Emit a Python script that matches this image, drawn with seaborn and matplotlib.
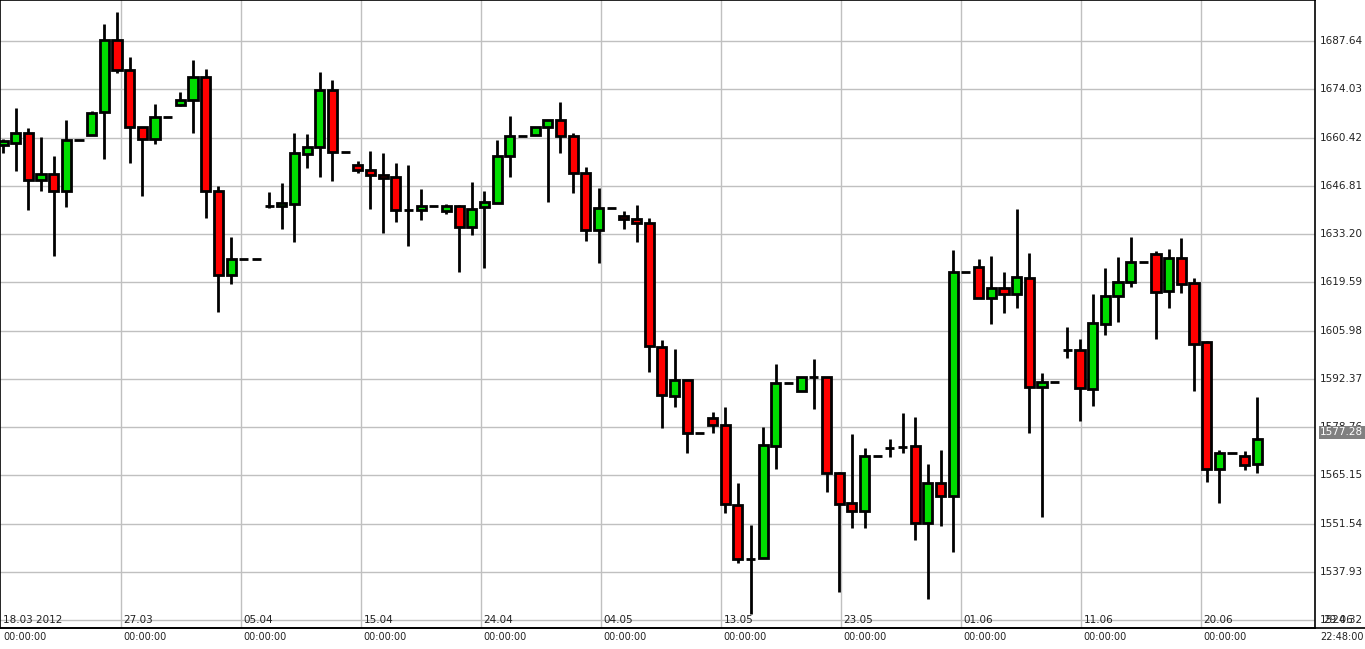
import numpy as np
import matplotlib
matplotlib.use("Agg")
import matplotlib.pyplot as plt
import seaborn as sns

opens = [1658.4,1658.9,1661.7,1648.4,1650.1,1645.3,1659.7,1661.1,1667.6,1688.0,
         1679.5,1663.4,1660.0,1666.2,1669.6,1671.0,1677.5,1645.3,1621.7,1626.2,
         1626.2,1641.1,1641.0,1641.7,1655.7,1657.7,1673.8,1656.3,1652.7,1651.3,
         1649.9,1649.3,1640.0,1640.0,1641.1,1639.8,1641.1,1635.2,1640.7,1642.0,
         1655.2,1660.9,1661.1,1663.4,1665.4,1660.9,1650.4,1634.3,1640.5,1638.3,
         1637.4,1636.3,1601.4,1587.6,1592.1,1577.2,1581.3,1579.4,1556.8,1541.6,
         1541.9,1573.3,1591.2,1588.9,1592.9,1592.9,1565.8,1557.4,1555.1,1570.6,
         1572.9,1573.2,1573.4,1551.8,1563.0,1559.4,1622.5,1623.9,1615.2,1618.0,
         1616.3,1620.8,1590.1,1591.5,1600.5,1600.5,1589.5,1607.8,1615.7,1619.7,
         1625.3,1627.6,1617.1,1626.5,1619.4,1602.8,1567.0,1571.5,1570.6,1568.4]
closes = [1659.5,1661.7,1648.4,1650.1,1645.3,1659.7,1659.7,1667.4,1688.0,1679.5,
          1663.4,1660.0,1666.2,1666.2,1671.0,1677.5,1645.3,1621.7,1626.2,1626.2,
          1626.2,1641.1,1642.0,1656.0,1657.7,1673.8,1656.3,1656.3,1651.3,1649.9,
          1649.0,1640.0,1640.0,1641.1,1641.1,1641.1,1635.2,1640.4,1642.3,1655.2,
          1660.9,1660.9,1663.4,1665.4,1660.9,1650.4,1634.3,1640.5,1640.5,1637.4,
          1636.3,1601.7,1587.9,1592.1,1577.2,1577.2,1579.4,1557.1,1541.6,1541.6,
          1573.6,1591.2,1591.2,1592.9,1592.9,1565.8,1557.1,1555.1,1570.6,1570.6,
          1572.9,1573.2,1551.8,1563.0,1559.4,1622.5,1622.5,1615.2,1618.0,1616.3,
          1621.1,1590.1,1591.5,1591.5,1600.5,1589.8,1608.0,1615.7,1619.7,1625.3,
          1625.3,1616.9,1626.5,1619.1,1602.3,1567.0,1571.5,1571.5,1568.1,1575.5]
highs = [1660.0,1668.7,1663.0,1660.7,1655.2,1665.4,1659.7,1667.9,1692.4,1695.8,
         1683.1,1663.4,1669.9,1666.2,1673.2,1682.3,1679.7,1646.8,1632.4,1626.2,
         1626.2,1645.0,1647.6,1661.8,1661.4,1678.9,1676.6,1656.3,1653.8,1656.6,
         1656.0,1653.2,1652.6,1645.9,1641.1,1641.7,1641.4,1647.9,1645.3,1659.8,
         1666.5,1660.9,1663.4,1665.4,1670.4,1661.7,1652.1,1646.2,1640.5,1639.7,
         1641.4,1637.6,1603.3,1600.8,1592.1,1577.2,1583.0,1584.4,1563.0,1551.2,
         1578.8,1596.6,1591.2,1592.9,1598.0,1592.9,1566.1,1576.8,1572.9,1570.6,
         1575.4,1582.7,1581.6,1568.4,1572.3,1628.7,1622.5,1626.2,1627.0,1622.5,
         1640.4,1627.9,1594.0,1591.5,1607.0,1603.6,1616.3,1623.6,1626.8,1632.4,
         1625.3,1628.4,1629.0,1632.1,1620.8,1603.0,1572.3,1571.5,1572.0,1587.2]
lows = [1656.0,1651.0,1640.0,1645.3,1627.0,1640.8,1659.7,1661.0,1654.4,1678.6,
        1653.2,1643.9,1658.6,1666.2,1669.3,1661.7,1637.7,1611.2,1619.0,1626.2,
        1626.2,1640.5,1634.6,1631.0,1651.8,1649.3,1648.2,1656.3,1650.4,1640.3,
        1633.5,1636.6,1629.8,1637.2,1641.1,1638.8,1622.4,1632.9,1623.7,1642.0,
        1649.3,1660.9,1661.1,1642.3,1656.0,1644.8,1631.2,1625.0,1640.5,1634.6,
        1631.0,1594.3,1578.5,1584.4,1571.5,1577.2,1577.2,1554.6,1540.5,1526.0,
        1541.9,1566.9,1591.2,1588.9,1583.9,1560.5,1532.3,1550.3,1550.3,1570.6,
        1570.3,1571.5,1547.0,1530.3,1550.9,1543.6,1622.5,1615.2,1607.9,1611.0,
        1612.4,1577.0,1553.4,1591.5,1598.2,1580.5,1584.7,1604.8,1608.4,1618.3,
        1625.3,1603.6,1612.4,1616.6,1588.9,1563.3,1557.4,1571.5,1566.7,1565.8]

y_ticks = [1524.32,1537.93,1551.54,1565.15,1578.76,1592.37,1605.98,1619.59,1633.20,1646.81,1660.42,1674.03,1687.64]
date_labels = ["18.03 2012","27.03","05.04","15.04","24.04","04.05","13.05","23.05","01.06","11.06","20.06","29.06"]
date_pos = [-0.2,9.31,18.78,28.25,37.72,47.19,56.66,66.13,75.6,85.07,94.54,104.0]
last_price = 1577.28

sns.set_style("white")
plt.rcParams['font.family'] = ['DejaVu Sans']

fig = plt.figure(figsize=(13.65, 6.49), dpi=100)
ax = fig.add_axes([0.0, 1 - 628/649, 1315/1365, 628/649])

x = np.arange(len(opens))
o = np.array(opens); c = np.array(closes)
cols = np.where(c >= o, "#00dd00", "#ff0000")
for gx in date_pos[1:-1]:
    ax.axvline(gx, color="#c0c0c0", lw=1, zorder=0)
for t in y_ticks:
    ax.axhline(t, color="#c0c0c0", lw=1, zorder=0)
ax.vlines(x, lows, highs, color="black", lw=2, zorder=1)
ax.bar(x, c - o, bottom=o, width=0.72, color=cols, edgecolor="black", linewidth=2, zorder=2)

ax.set_xlim(-0.237, 103.55)
ax.set_ylim(1522.1, 1699.2)
ax.set_xticks([]); ax.set_yticks([])
for s in ax.spines.values():
    s.set_color("black"); s.set_linewidth(1.2)

tr = ax.get_yaxis_transform()
for t in y_ticks:
    ax.text(1.004, t, f"{t:.2f}", transform=tr, ha="left", va="center", fontsize=7.5, color="#222222")
ax.text(1.004, last_price, f"{last_price:.2f}", transform=tr, ha="left", va="center", fontsize=7.5,
        color="white", bbox=dict(boxstyle="square,pad=0.15", fc="#808080", ec="none"))

bt = ax.get_xaxis_transform()
for p, lab in zip(date_pos, date_labels):
    ax.text(p + 0.2, 0.0 + 8/628, lab, transform=bt, ha="left", va="center", fontsize=7.5, color="#222222")
    if lab != "29.06":
        ax.text(p + 0.2, -9/628, "00:00:00", transform=bt, ha="left", va="center", fontsize=7, color="#222222", clip_on=False)
fig.text(1364/1365, 1 - 637/649, "22:48:00", ha="right", va="center", fontsize=7, color="#222222")
fig.add_artist(plt.Line2D([0, 1], [1 - 628/649, 1 - 628/649], color="black", lw=1.2))

fig.savefig("out.png", dpi=100)
